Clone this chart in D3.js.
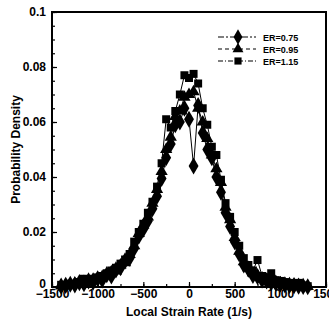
<!DOCTYPE html>
<html><head><meta charset="utf-8">
<script src="https://cdn.jsdelivr.net/npm/d3@7/dist/d3.min.js"></script>
<style>body{margin:0;background:#fff}svg{display:block}text{font-family:"Liberation Sans",Arial,sans-serif;font-weight:bold}</style>
</head><body><svg id="c" width="329" height="320"></svg>
<script>
const strainRate = [-1400,-1350,-1300,-1250,-1200,-1150,-1100,-1050,-1000,-950,-900,-850,-800,-750,-700,-650,-600,-550,-500,-450,-400,-350,-300,-250,-200,-150,-100,-50,0,50,100,150,200,250,300,350,400,450,500,550,600,650,700,750,800,850,900,950,1000,1050,1100,1150,1200,1250,1300];
const er075 = [0.0003,0.0006,0.0010,0.0008,0.0016,0.0012,0.0022,0.0018,0.0030,0.0026,0.0045,0.0040,0.0062,0.0070,0.0095,0.0105,0.0140,0.0185,0.0210,0.0240,0.0285,0.0330,0.0395,0.0470,0.0520,0.0590,0.0600,0.0650,0.0610,0.0440,0.0660,0.0560,0.0500,0.0470,0.0400,0.0345,0.0270,0.0220,0.0165,0.0120,0.0080,0.0065,0.0042,0.0038,0.0026,0.0022,0.0016,0.0014,0.0010,0.0008,0.0006,0.0005,0.0003,0.0002,0.0001];
const er095 = [0.0004,0.0007,0.0009,0.0013,0.0012,0.0020,0.0019,0.0028,0.0032,0.0038,0.0042,0.0055,0.0058,0.0080,0.0088,0.0118,0.0150,0.0195,0.0225,0.0255,0.0305,0.0355,0.0420,0.0500,0.0545,0.0620,0.0640,0.0690,0.0700,0.0710,0.0650,0.0600,0.0540,0.0480,0.0430,0.0380,0.0290,0.0245,0.0180,0.0130,0.0092,0.0070,0.0052,0.0040,0.0032,0.0025,0.0021,0.0017,0.0014,0.0011,0.0009,0.0007,0.0005,0.0004,0.0002];
const er115 = [0.0008,0.0005,0.0012,0.0010,0.0018,0.0030,0.0022,0.0030,0.0035,0.0040,0.0050,0.0060,0.0070,0.0085,0.0100,0.0120,0.0165,0.0200,0.0230,0.0270,0.0310,0.0365,0.0450,0.0610,0.0580,0.0640,0.0700,0.0770,0.0760,0.0775,0.0740,0.0650,0.0590,0.0510,0.0480,0.0390,0.0305,0.0255,0.0200,0.0150,0.0105,0.0080,0.0060,0.0098,0.0040,0.0035,0.0050,0.0025,0.0022,0.0018,0.0015,0.0012,0.0015,0.0006,0.0003];
const seriesNames = ["ER=0.75","ER=0.95","ER=1.15"];
const xTicks = [-1500,-1000,-500,0,500,1000,1500];
const yTicks = [0,0.02,0.04,0.06,0.08,0.1];
const xTitle = "Local Strain Rate (1/s)";
const yTitle = "Probability Density";

const svg = d3.select("#c");
const L=52,R=326,T=12,B=287;
const x = d3.scaleLinear().domain([-1500,1500]).range([L,R]);
const y = d3.scaleLinear().domain([0,0.1]).range([B,T]);

const series = [
  {name:seriesNames[0], vals:er075, sym:d3.symbolDiamond, size:85, dash:"6,2,2,2"},
  {name:seriesNames[1], vals:er095, sym:d3.symbolTriangle, size:65, dash:"4,3"},
  {name:seriesNames[2], vals:er115, sym:d3.symbolSquare, size:64, dash:"5,2,1,2"}
];

// axes
const gx = svg.append("g").attr("transform",`translate(0,${B})`)
  .call(d3.axisBottom(x).tickValues(xTicks).tickSize(-5).tickPadding(2).tickFormat(d3.format("d")));
const gxm = svg.append("g").attr("transform",`translate(0,${B})`)
  .call(d3.axisBottom(x).tickValues(d3.range(-1500,1501,250)).tickSize(-3).tickFormat(""));
const gy = svg.append("g").attr("transform",`translate(${L},0)`)
  .call(d3.axisLeft(y).tickValues(yTicks).tickSize(-5).tickPadding(6).tickFormat(d=>String(d)));
const gym = svg.append("g").attr("transform",`translate(${L},0)`)
  .call(d3.axisLeft(y).tickValues(d3.range(0,0.1001,0.005)).tickSize(-3).tickFormat(""));
[gx,gxm,gy,gym].forEach(g=>{g.select(".domain").remove();g.selectAll("line").attr("stroke","#000").attr("stroke-width",1.2);});
gx.selectAll("text").attr("font-size",12).attr("fill","#000");
gy.selectAll("text").attr("font-size",12).attr("fill","#000");
gy.selectAll(".tick").filter(d=>d===0).select("text").attr("dy","0.05em");
// frame
svg.append("rect").attr("x",L).attr("y",T).attr("width",R-L).attr("height",B-T)
  .attr("fill","none").attr("stroke","#000").attr("stroke-width",2);

// lines and markers
series.forEach(s=>{
  const pts = strainRate.map((v,i)=>[v,s.vals[i]]);
  svg.append("path").datum(pts)
    .attr("d",d3.line().x(d=>x(d[0])).y(d=>y(d[1])))
    .attr("fill","none").attr("stroke","#000").attr("stroke-width",1);
  svg.append("g").selectAll("path").data(pts).join("path")
    .attr("transform",d=>`translate(${x(d[0])},${y(d[1])})`)
    .attr("d",d3.symbol(s.sym,s.size)).attr("fill","#000");
});

// legend
series.forEach((s,i)=>{
  const ly = 37 + i*12;
  svg.append("line").attr("x1",218).attr("x2",256).attr("y1",ly).attr("y2",ly)
    .attr("stroke","#000").attr("stroke-width",1.2).attr("stroke-dasharray",s.dash);
  svg.append("path").attr("transform",`translate(238,${ly})`).attr("d",d3.symbol(s.sym,s.size*0.8)).attr("fill","#000");
  svg.append("text").attr("x",263).attr("y",ly+3.5).attr("font-size",9).text(s.name);
});

// titles
svg.append("text").attr("x",(L+R)/2).attr("y",316).attr("text-anchor","middle").attr("font-size",12).text(xTitle);
svg.append("text").attr("transform",`translate(20,${(T+B)/2}) rotate(-90)`).attr("text-anchor","middle").attr("font-size",12).text(yTitle);
</script></body></html>
